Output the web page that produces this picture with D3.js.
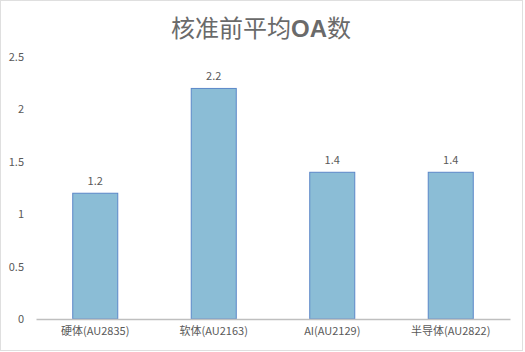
<!DOCTYPE html>
<html>
<head>
<meta charset="utf-8">
<script src="https://d3js.org/d3.v7.min.js"></script>
<style>
  body { margin: 0; background: #fff; }
  text { font-family: "Noto Sans CJK SC", "Liberation Sans", sans-serif; fill: #595959; }
</style>
</head>
<body>
<svg id="chart"></svg>
<script>
// chart data
const categories = ['硬体(AU2835)', '软体(AU2163)', 'AI(AU2129)', '半导体(AU2822)'];
const values = [1.2, 2.2, 1.4, 1.4];
const yTicks = [0, 0.5, 1, 1.5, 2, 2.5];

const width = 525, height = 352;
const margin = { top: 57, right: 15, bottom: 33, left: 36 };
const innerW = width - margin.left - margin.right;
const innerH = height - margin.top - margin.bottom;

const svg = d3.select('#chart')
  .attr('width', width)
  .attr('height', height);

// outer frame
svg.append('rect')
  .attr('x', 0.5).attr('y', 0.5)
  .attr('width', width - 3).attr('height', height - 2)
  .attr('fill', '#fff')
  .attr('stroke', '#bfbfbf')
  .attr('stroke-dasharray', '1,1');

// title
const title = svg.append('text')
  .attr('x', 261)
  .attr('y', 37)
  .attr('text-anchor', 'middle')
  .attr('font-size', '24px')
  .style('fill', '#6a6a6a');
title.append('tspan').text('核准前平均');
title.append('tspan').attr('font-weight', 'bold').attr('font-family', 'Liberation Sans, sans-serif').text('OA');
title.append('tspan').text('数');

const chart = svg.append('g')
  .attr('transform', `translate(${margin.left},${margin.top})`);

const xScale = d3.scaleBand()
  .domain(categories)
  .range([0, innerW])
  .paddingInner(0.62)
  .paddingOuter(0.31);

const yScale = d3.scaleLinear()
  .domain([0, 2.5])
  .range([innerH, 0]);

// y axis labels (no line)
const yAxis = d3.axisLeft(yScale)
  .tickValues(yTicks)
  .tickFormat(d3.format('~g'))
  .tickSize(0)
  .tickPadding(0);

const yAxisG = chart.append('g')
  .attr('transform', 'translate(-12,0)')
  .call(yAxis);
yAxisG.select('.domain').remove();
yAxisG.selectAll('text')
  .attr('font-size', '11px')
  .attr('font-family', 'Liberation Sans, sans-serif')
  .attr('fill', '#595959');

// bars
chart.selectAll('.bar')
  .data(values)
  .join('rect')
    .attr('class', 'bar')
    .attr('x', (d, i) => xScale(categories[i]))
    .attr('y', d => yScale(d))
    .attr('width', xScale.bandwidth())
    .attr('height', d => innerH - yScale(d))
    .attr('fill', '#8bbdd6')
    .attr('stroke', '#5b87c8')
    .attr('stroke-width', 1);

// data labels
chart.selectAll('.label')
  .data(values)
  .join('text')
    .attr('class', 'label')
    .attr('x', (d, i) => xScale(categories[i]) + xScale.bandwidth() / 2)
    .attr('y', d => yScale(d) - 8)
    .attr('text-anchor', 'middle')
    .attr('font-size', '11px')
    .attr('font-family', 'Liberation Sans, sans-serif')
    .text(d => d3.format('.1f')(d));

// x axis
const xAxis = d3.axisBottom(xScale)
  .tickSize(0)
  .tickPadding(8);

const xAxisG = chart.append('g')
  .attr('transform', `translate(0,${innerH})`)
  .call(xAxis);
xAxisG.select('.domain')
  .attr('stroke', '#bfbfbf')
  .attr('stroke-width', 1.5);
xAxisG.selectAll('text')
  .attr('font-size', '11px')
  .attr('fill', '#595959');
</script>
</body>
</html>
